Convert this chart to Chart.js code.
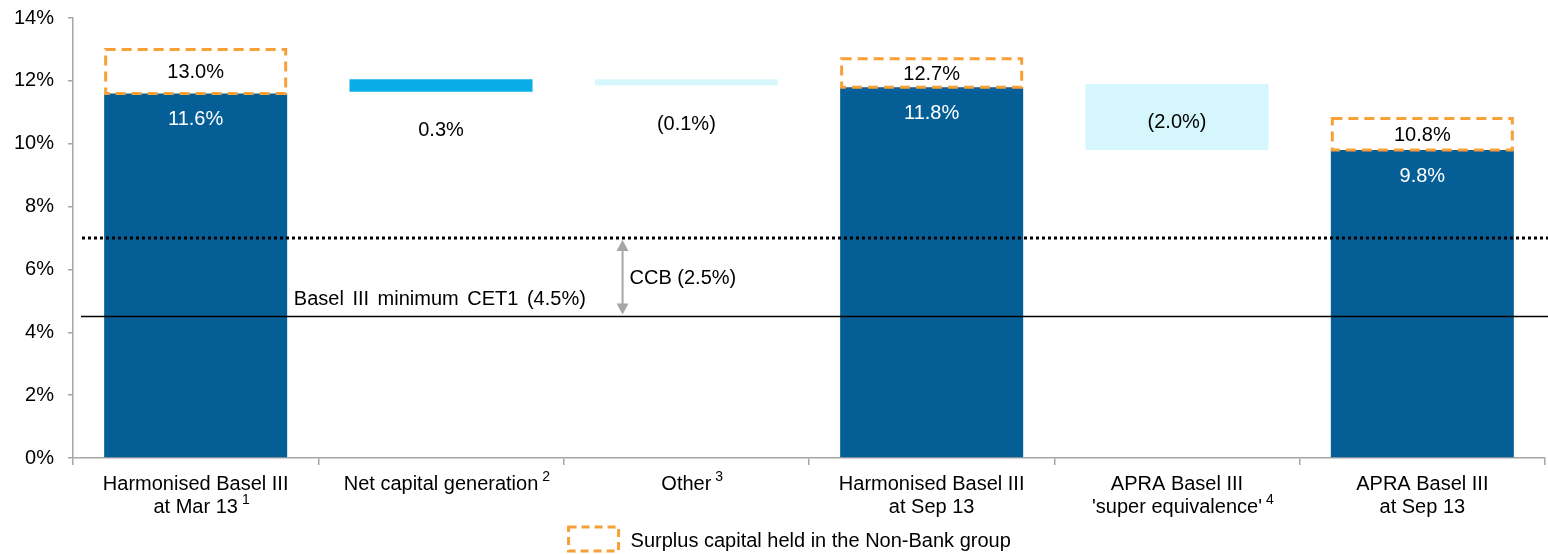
<!DOCTYPE html>
<html>
<head>
<meta charset="utf-8">
<script src="https://cdn.jsdelivr.net/npm/chart.js@4/dist/chart.umd.min.js"></script>
<style>
  html, body { margin: 0; padding: 0; background: #ffffff; }
  #wrap { width: 1548px; height: 554px; position: relative; }
</style>
</head>
<body>
<div id="wrap"><canvas id="c" width="1548" height="554"></canvas></div>
<script>
// ---------------- DATA ----------------
const categories = [
  ['Harmonised Basel III', 'at Mar 13'],
  ['Net capital generation'],
  ['Other'],
  ['Harmonised Basel III', 'at Sep 13'],
  ['APRA Basel III', "'super equivalence'"],
  ['APRA Basel III', 'at Sep 13']
];
const superscripts = ['1', '2', '3', '', '4', ''];

const baseValues   = [11.6, null, null, 11.8, null, 9.8];   // CET1 ratio bars (from 0)
const surplusTops  = [13.0, null, null, 12.7, null, 10.8];  // top of surplus (Non-Bank) box
const changeLow    = [null, 11.65, 11.85, null, 9.8, null]; // floating movement bars
const changeHigh   = [null, 12.05, 12.05, null, 11.9, null];

const baseLabels    = ['11.6%', '', '', '11.8%', '', '9.8%'];
const surplusLabels = ['13.0%', '', '', '12.7%', '', '10.8%'];
const changeLabels  = ['', '0.3%', '(0.1%)', '', '(2.0%)', ''];

const yTickValues = [0, 2, 4, 6, 8, 10, 12, 14];
const ccbLevel = 7.0;   // dotted line
const minLevel = 4.5;   // Basel III minimum CET1

const minLabel = 'Basel III minimum CET1 (4.5%)';
const ccbLabel = 'CCB (2.5%)';
const legendLabel = 'Surplus capital held in the Non-Bank group';

// ---------------- STYLE ----------------
const FONT = '"Liberation Sans", Arial, sans-serif';
const DARK_BLUE = '#065E96';
const ORANGE = '#F7A038';
const changeColors = ['rgba(0,0,0,0)', '#0AACE8', '#D8F7FD', 'rgba(0,0,0,0)', '#D5F6FC', 'rgba(0,0,0,0)'];
const AXIS_GREY = '#A6A6A6';

const baseData = baseValues.map(v => v == null ? null : [0, v]);
const surplusData = surplusTops.map((t, i) => t == null ? null : [baseValues[i], t]);
const changeData = changeLow.map((lo, i) => lo == null ? null : [lo, changeHigh[i]]);

const overlay = {
  id: 'overlay',
  afterDatasetsDraw(chart) {
    const ctx = chart.ctx;
    const xs = chart.scales.x, ys = chart.scales.y;
    const area = chart.chartArea;
    ctx.save();

    // reference lines
    const yCcb = ys.getPixelForValue(ccbLevel);
    const yMin = ys.getPixelForValue(minLevel);
    ctx.strokeStyle = '#000';
    ctx.lineWidth = 3;
    ctx.setLineDash([3, 3]);
    ctx.beginPath();
    ctx.moveTo(area.left + 9, yCcb);
    ctx.lineTo(chart.width, yCcb);
    ctx.stroke();
    ctx.setLineDash([]);
    ctx.lineWidth = 1.5;
    ctx.beginPath();
    ctx.moveTo(area.left + 8, yMin);
    ctx.lineTo(chart.width, yMin);
    ctx.stroke();

    // CCB arrow
    const ax = xs.getPixelForValue(1.74);
    ctx.strokeStyle = AXIS_GREY;
    ctx.fillStyle = AXIS_GREY;
    ctx.lineWidth = 2;
    ctx.beginPath();
    ctx.moveTo(ax, yCcb + 10);
    ctx.lineTo(ax, yMin - 10);
    ctx.stroke();
    ctx.beginPath();
    ctx.moveTo(ax, yCcb + 2); ctx.lineTo(ax - 6, yCcb + 13); ctx.lineTo(ax + 6, yCcb + 13); ctx.closePath(); ctx.fill();
    ctx.beginPath();
    ctx.moveTo(ax, yMin - 2); ctx.lineTo(ax - 6, yMin - 13); ctx.lineTo(ax + 6, yMin - 13); ctx.closePath(); ctx.fill();

    ctx.fillStyle = '#000';
    ctx.font = '20px ' + FONT;
    ctx.textBaseline = 'middle';
    ctx.textAlign = 'left';
    ctx.fillText(ccbLabel, ax + 7, (yCcb + yMin) / 2 + 1);
    if ('wordSpacing' in ctx) ctx.wordSpacing = '3px';
    ctx.fillText(minLabel, xs.getPixelForValue(0.4), yMin - 17);
    if ('wordSpacing' in ctx) ctx.wordSpacing = '0px';

    // surplus dashed boxes
    const sMeta = chart.getDatasetMeta(1);
    ctx.strokeStyle = ORANGE;
    ctx.lineWidth = 3;
    ctx.setLineDash([10, 6]);
    sMeta.data.forEach((el, i) => {
      if (surplusData[i] == null) return;
      const p = el.getProps(['x', 'y', 'base', 'width'], true);
      const l = p.x - p.width / 2 + 1.5, r = p.x + p.width / 2 - 1.5;
      ctx.beginPath();
      ctx.rect(l, p.y, r - l, p.base - p.y);
      ctx.stroke();
    });
    ctx.setLineDash([]);

    // value labels
    ctx.textAlign = 'center';
    ctx.textBaseline = 'middle';
    ctx.font = '20px ' + FONT;
    sMeta.data.forEach((el, i) => {
      if (!surplusLabels[i]) return;
      const p = el.getProps(['x', 'y', 'base'], true);
      ctx.fillStyle = '#000';
      ctx.fillText(surplusLabels[i], p.x, (p.y + p.base) / 2 + 1);
    });
    chart.getDatasetMeta(0).data.forEach((el, i) => {
      if (!baseLabels[i]) return;
      const p = el.getProps(['x', 'y'], true);
      ctx.fillStyle = '#fff';
      ctx.fillText(baseLabels[i], p.x, p.y + 26);
    });
    chart.getDatasetMeta(2).data.forEach((el, i) => {
      if (!changeLabels[i]) return;
      const p = el.getProps(['x', 'y', 'base'], true);
      const h = p.base - p.y;
      ctx.fillStyle = '#000';
      const ty = h > 40 ? (p.y + p.base) / 2 + 5 : p.base + 39;
      ctx.fillText(changeLabels[i], p.x, ty);
    });

    // category labels
    categories.forEach((lines, i) => {
      const cx = xs.getPixelForValue(i);
      lines.forEach((line, j) => {
        const ly = area.bottom + 26 + j * 23;
        ctx.font = '20px ' + FONT;
        ctx.textAlign = 'center';
        ctx.fillStyle = '#000';
        ctx.fillText(line, cx, ly);
        if (j === lines.length - 1 && superscripts[i]) {
          const w = ctx.measureText(line).width;
          ctx.font = '14px ' + FONT;
          ctx.textAlign = 'left';
          ctx.fillText(superscripts[i], cx + w / 2 + 4, ly - 7);
        }
      });
    });

    // legend
    const lx = xs.getPixelForValue(1.52);
    ctx.strokeStyle = ORANGE;
    ctx.lineWidth = 3;
    ctx.setLineDash([8, 5]);
    ctx.strokeRect(lx, 527, 50, 24);
    ctx.setLineDash([]);
    ctx.fillStyle = '#000';
    ctx.font = '20px ' + FONT;
    ctx.textAlign = 'left';
    ctx.textBaseline = 'middle';
    ctx.fillText(legendLabel, lx + 62, 541);

    ctx.restore();
  }
};

new Chart(document.getElementById('c'), {
  type: 'bar',
  data: {
    labels: categories.map(c => c.join(' ')),
    datasets: [
      { label: 'CET1', data: baseData, backgroundColor: DARK_BLUE, borderWidth: 0, grouped: false },
      { label: 'Surplus capital held in the Non-Bank group', data: surplusData, backgroundColor: 'rgba(255,255,255,0)', borderWidth: 0, grouped: false },
      { label: 'Movement', data: changeData, backgroundColor: changeColors, borderWidth: 0, grouped: false }
    ]
  },
  plugins: [overlay],
  options: {
    responsive: false,
    animation: false,
    devicePixelRatio: 1,
    categoryPercentage: 1,
    barPercentage: 0.746,
    layout: { padding: { top: 18, right: 3, left: 0, bottom: 0 } },
    plugins: { legend: { display: false }, tooltip: { enabled: false }, title: { display: false } },
    scales: {
      x: {
        type: 'category',
        grid: { display: true, drawOnChartArea: false, drawTicks: true, tickLength: 7, color: AXIS_GREY, offset: true, lineWidth: 1.5 },
        border: { display: true, color: AXIS_GREY, width: 1.5 },
        ticks: { display: false },
        afterFit: s => { s.height = 96; s.paddingLeft = 0; s.paddingRight = 0; }
      },
      y: {
        min: 0, max: 14,
        afterBuildTicks: s => { s.ticks = yTickValues.map(v => ({ value: v })); },
        ticks: { callback: v => v + '%', color: '#000', font: { family: FONT, size: 20 }, padding: 14 },
        grid: { display: true, drawOnChartArea: false, drawTicks: true, tickLength: 5, color: AXIS_GREY, lineWidth: 1.5 },
        border: { display: true, color: AXIS_GREY, width: 1.5 },
        afterFit: s => { s.width = 73; s.paddingTop = 0; s.paddingBottom = 0; }
      }
    }
  }
});
</script>
</body>
</html>
